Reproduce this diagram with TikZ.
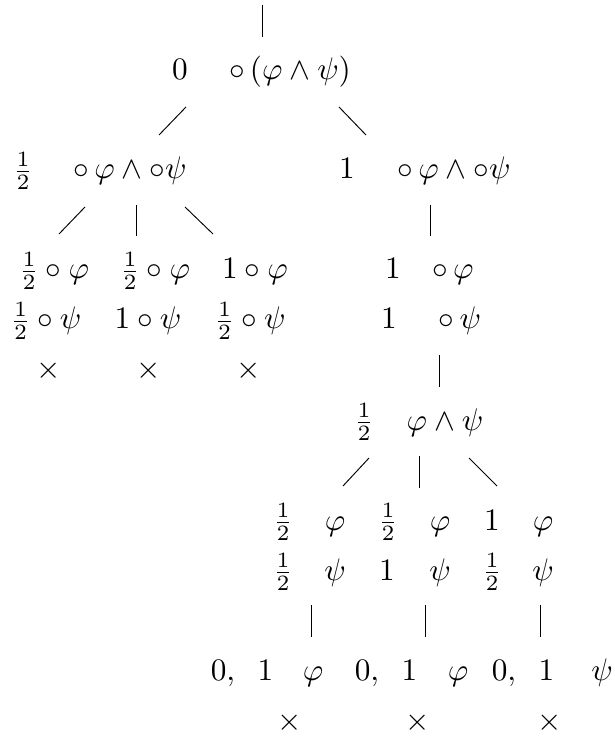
\documentclass[tikz,border=0pt]{standalone}
\begin{document}
\begin{tikzpicture}[x=0.32pt,y=-0.32pt,
  lbl/.style={anchor=base,inner sep=0pt,outer sep=0pt},
  edge/.style={line width=0.3pt}]
\useasboundingbox (0,0) rectangle (614,738);
% row 0
\node[lbl] (n0a) at (180,80) {$0$};
\node[lbl] (n0b) at (290,80) {$\circ\,(\varphi\wedge\psi)$};
% row 1
\node[lbl] (n1a) at (23,179) {$\frac12$};
\node[lbl] (n1b) at (130,179) {$\circ\,\varphi\wedge\circ\psi$};
\node[lbl] (n1c) at (347,179) {$1$};
\node[lbl] (n1d) at (454,179) {$\circ\,\varphi\wedge\circ\psi$};
% row 2
\node[lbl] (n2a) at (54,279) {$\frac12\circ\varphi$};
\node[lbl] (n2b) at (155,279) {$\frac12\circ\varphi$};
\node[lbl] (n2c) at (255,279) {$1\circ\varphi$};
\node[lbl] (n2d) at (393,279) {$1$};
\node[lbl] (n2e) at (453,279) {$\circ\,\varphi$};
% row 3
\node[lbl] (n3a) at (46,329) {$\frac12\circ\psi$};
\node[lbl] (n3b) at (148,329) {$1\circ\psi$};
\node[lbl] (n3c) at (250,329) {$\frac12\circ\psi$};
\node[lbl] (n3d) at (389,329) {$1$};
\node[lbl] (n3e) at (460,329) {$\circ\,\psi$};
% crosses
\node[lbl] (x1) at (49,379) {$\times$};
\node[lbl] (x2) at (149,379) {$\times$};
\node[lbl] (x3) at (249,379) {$\times$};
% row 4
\node[lbl] (n4a) at (364,430) {$\frac12$};
\node[lbl] (n4b) at (445,430) {$\varphi\wedge\psi$};
% row 5
\node[lbl] (n5a) at (283,530) {$\frac12$};
\node[lbl] (n5b) at (335,530) {$\varphi$};
\node[lbl] (n5c) at (388,530) {$\frac12$};
\node[lbl] (n5d) at (440,530) {$\varphi$};
\node[lbl] (n5e) at (492,530) {$1$};
\node[lbl] (n5f) at (543,530) {$\varphi$};
% row 6
\node[lbl] (n6a) at (283,580) {$\frac12$};
\node[lbl] (n6b) at (335,580) {$\psi$};
\node[lbl] (n6c) at (387,580) {$1$};
\node[lbl] (n6d) at (440,580) {$\psi$};
\node[lbl] (n6e) at (492,580) {$\frac12$};
\node[lbl] (n6f) at (543,580) {$\psi$};
% row 7
\node[lbl] (n7a) at (242,680) {$0,\hspace{5.5pt}1$};
\node[lbl] (n7b) at (313,680) {$\varphi$};
\node[lbl] (n7c) at (386,680) {$0,\hspace{5.5pt}1$};
\node[lbl] (n7d) at (458,680) {$\varphi$};
\node[lbl] (n7e) at (523,680) {$0,\hspace{5.5pt}1$};
\node[lbl] (n7f) at (602,680) {$\psi$};
% crosses bottom
\node[lbl] (y1) at (290,730) {$\times$};
\node[lbl] (y2) at (418,730) {$\times$};
\node[lbl] (y3) at (550,730) {$\times$};
% connector end points
\coordinate (a1) at (262,5);   \coordinate (a2) at (262,37);
\coordinate (b1) at (186,107); \coordinate (b2) at (159,135);
\coordinate (c1) at (339,107); \coordinate (c2) at (366,135);
\coordinate (d1) at (85,207);  \coordinate (d2) at (59,234);
\coordinate (e1) at (136,205); \coordinate (e2) at (136,236);
\coordinate (f1) at (185,207); \coordinate (f2) at (213,234);
\coordinate (g1) at (430,205); \coordinate (g2) at (430,236);
\coordinate (h1) at (439,355); \coordinate (h2) at (439,387);
\coordinate (i1) at (369,458); \coordinate (i2) at (343,486);
\coordinate (j1) at (419,456); \coordinate (j2) at (419,488);
\coordinate (k1) at (469,458); \coordinate (k2) at (497,486);
\coordinate (l1) at (311,605); \coordinate (l2) at (311,637);
\coordinate (m1) at (425,605); \coordinate (m2) at (425,637);
\coordinate (o1) at (540,605); \coordinate (o2) at (540,637);
\foreach \p in {a,b,c,d,e,f,g,h,i,j,k,l,m,o}
  \draw[edge] (\p1) -- (\p2);
\end{tikzpicture}
\end{document}
